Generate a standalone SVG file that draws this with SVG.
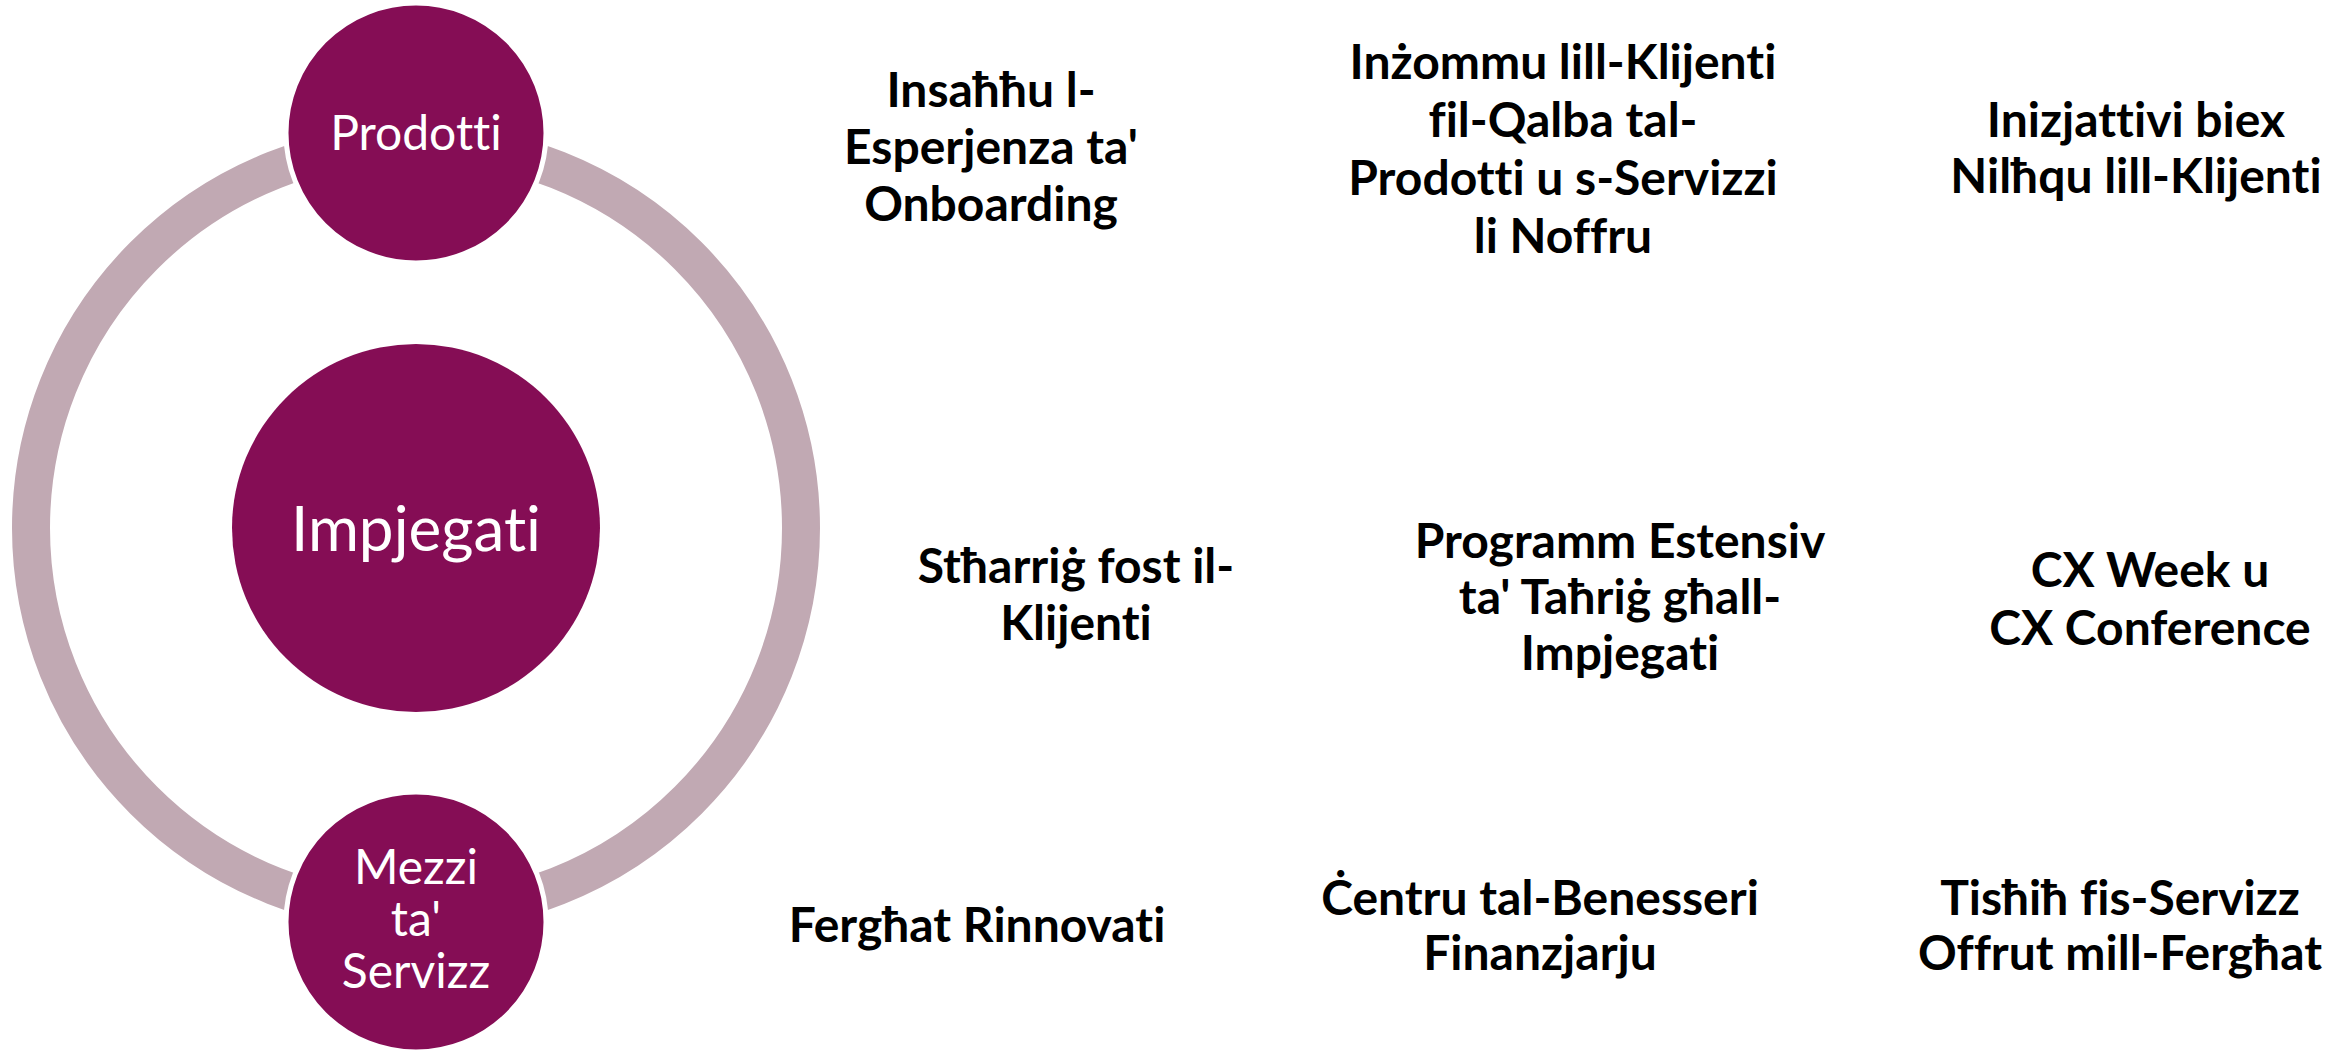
<svg xmlns="http://www.w3.org/2000/svg" width="2351" height="1051" viewBox="0 0 2351 1051">
<style>
.ring{fill:none;stroke:#C1A9B3;stroke-width:38}
.node{fill:#850D55;stroke:#FFFFFF;stroke-width:5}
.nt{font-family:Lato,"Open Sans",sans-serif;fill:#FFFFFF;text-anchor:middle;font-variant-ligatures:none}
.lbl{font-family:Lato,"Open Sans",sans-serif;font-weight:bold;font-size:48px;fill:#000000;text-anchor:middle;font-variant-ligatures:none}
</style>
<rect width="2351" height="1051" fill="#FFFFFF"/>
<g id="connectors">
<circle class="ring" cx="416" cy="528" r="385"/>
</g>
<g id="node-impjegati">
<circle class="node" cx="416" cy="528" r="184" style="stroke:none"/>
<text class="nt" x="416" y="551" font-size="62">Impjegati</text>
</g>
<g id="node-prodotti">
<circle class="node" cx="416" cy="133" r="130"/>
<text class="nt" x="416" y="150" font-size="48">Prodotti</text>
</g>
<g id="node-mezzi">
<circle class="node" cx="416" cy="922" r="130"/>
<text class="nt" font-size="48"><tspan x="416" y="884">Mezzi</tspan><tspan x="416" y="936">ta'</tspan><tspan x="416" y="988">Servizz</tspan></text>
</g>
<g id="label-r1c1"><text class="lbl"><tspan x="991" y="107">Insaħħu l-</tspan><tspan x="991" y="164">Esperjenza ta'</tspan><tspan x="991" y="221">Onboarding</tspan></text></g>
<g id="label-r1c2"><text class="lbl"><tspan x="1563" y="79">Inżommu lill-Klijenti</tspan><tspan x="1563" y="137">fil-Qalba tal-</tspan><tspan x="1563" y="195">Prodotti u s-Servizzi</tspan><tspan x="1563" y="253">li Noffru</tspan></text></g>
<g id="label-r1c3"><text class="lbl"><tspan x="2136" y="137">Inizjattivi biex</tspan><tspan x="2136" y="193">Nilħqu lill-Klijenti</tspan></text></g>
<g id="label-r2c1"><text class="lbl"><tspan x="1076" y="583">Stħarriġ fost il-</tspan><tspan x="1076" y="640">Klijenti</tspan></text></g>
<g id="label-r2c2"><text class="lbl"><tspan x="1620" y="558">Programm Estensiv</tspan><tspan x="1620" y="614">ta' Taħriġ għall-</tspan><tspan x="1620" y="670">Impjegati</tspan></text></g>
<g id="label-r2c3"><text class="lbl"><tspan x="2150" y="587">CX Week u</tspan><tspan x="2150" y="645">CX Conference</tspan></text></g>
<g id="label-r3c1"><text class="lbl"><tspan x="977" y="942">Fergħat Rinnovati</tspan></text></g>
<g id="label-r3c2"><text class="lbl"><tspan x="1540" y="915">Ċentru tal-Benesseri</tspan><tspan x="1540" y="970">Finanzjarju</tspan></text></g>
<g id="label-r3c3"><text class="lbl"><tspan x="2120" y="915">Tisħiħ fis-Servizz</tspan><tspan x="2120" y="970">Offrut mill-Fergħat</tspan></text></g>
</svg>
